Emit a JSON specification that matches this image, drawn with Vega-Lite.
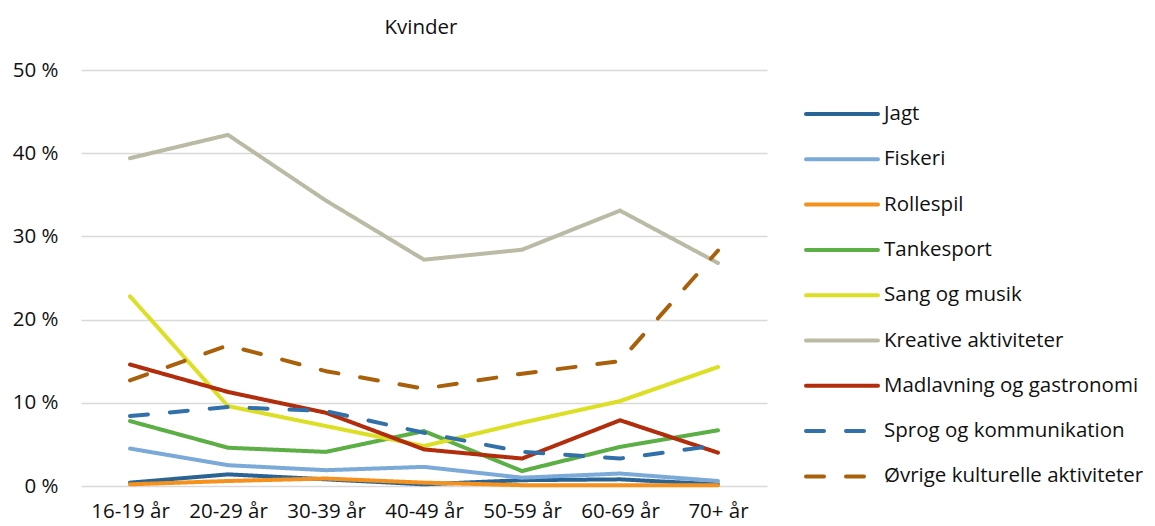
{
  "$schema": "https://vega.github.io/schema/vega-lite/v6.json",
  "width": 686,
  "height": 416,
  "autosize": {"type": "none"},
  "padding": {"left": 81, "top": 70, "right": 388, "bottom": 40},
  "background": "white",
  "title": {"text": "Kvinder", "fontSize": 20.5, "font": "Open Sans", "fontWeight": "normal", "color": "#111111", "anchor": "middle", "dx": -3, "offset": 22},
  "config": {"view": {"stroke": null}, "font": "Open Sans"},
  "data": {"values": [
    {"age": "16-19 år", "series": "Jagt", "pct": 0.4},
    {"age": "20-29 år", "series": "Jagt", "pct": 1.4},
    {"age": "30-39 år", "series": "Jagt", "pct": 0.8},
    {"age": "40-49 år", "series": "Jagt", "pct": 0.2},
    {"age": "50-59 år", "series": "Jagt", "pct": 0.7},
    {"age": "60-69 år", "series": "Jagt", "pct": 0.8},
    {"age": "70+ år", "series": "Jagt", "pct": 0.2},
    {"age": "16-19 år", "series": "Fiskeri", "pct": 4.5},
    {"age": "20-29 år", "series": "Fiskeri", "pct": 2.5},
    {"age": "30-39 år", "series": "Fiskeri", "pct": 1.9},
    {"age": "40-49 år", "series": "Fiskeri", "pct": 2.3},
    {"age": "50-59 år", "series": "Fiskeri", "pct": 1.0},
    {"age": "60-69 år", "series": "Fiskeri", "pct": 1.5},
    {"age": "70+ år", "series": "Fiskeri", "pct": 0.6},
    {"age": "16-19 år", "series": "Rollespil", "pct": 0.2},
    {"age": "20-29 år", "series": "Rollespil", "pct": 0.6},
    {"age": "30-39 år", "series": "Rollespil", "pct": 0.9},
    {"age": "40-49 år", "series": "Rollespil", "pct": 0.4},
    {"age": "50-59 år", "series": "Rollespil", "pct": 0.1},
    {"age": "60-69 år", "series": "Rollespil", "pct": 0.1},
    {"age": "70+ år", "series": "Rollespil", "pct": 0.1},
    {"age": "16-19 år", "series": "Tankesport", "pct": 7.8},
    {"age": "20-29 år", "series": "Tankesport", "pct": 4.6},
    {"age": "30-39 år", "series": "Tankesport", "pct": 4.1},
    {"age": "40-49 år", "series": "Tankesport", "pct": 6.6},
    {"age": "50-59 år", "series": "Tankesport", "pct": 1.8},
    {"age": "60-69 år", "series": "Tankesport", "pct": 4.7},
    {"age": "70+ år", "series": "Tankesport", "pct": 6.7},
    {"age": "16-19 år", "series": "Sang og musik", "pct": 22.8},
    {"age": "20-29 år", "series": "Sang og musik", "pct": 9.6},
    {"age": "30-39 år", "series": "Sang og musik", "pct": 7.2},
    {"age": "40-49 år", "series": "Sang og musik", "pct": 4.8},
    {"age": "50-59 år", "series": "Sang og musik", "pct": 7.6},
    {"age": "60-69 år", "series": "Sang og musik", "pct": 10.2},
    {"age": "70+ år", "series": "Sang og musik", "pct": 14.3},
    {"age": "16-19 år", "series": "Kreative aktiviteter", "pct": 39.4},
    {"age": "20-29 år", "series": "Kreative aktiviteter", "pct": 42.2},
    {"age": "30-39 år", "series": "Kreative aktiviteter", "pct": 34.3},
    {"age": "40-49 år", "series": "Kreative aktiviteter", "pct": 27.2},
    {"age": "50-59 år", "series": "Kreative aktiviteter", "pct": 28.4},
    {"age": "60-69 år", "series": "Kreative aktiviteter", "pct": 33.1},
    {"age": "70+ år", "series": "Kreative aktiviteter", "pct": 26.8},
    {"age": "16-19 år", "series": "Madlavning og gastronomi", "pct": 14.6},
    {"age": "20-29 år", "series": "Madlavning og gastronomi", "pct": 11.3},
    {"age": "30-39 år", "series": "Madlavning og gastronomi", "pct": 8.8},
    {"age": "40-49 år", "series": "Madlavning og gastronomi", "pct": 4.4},
    {"age": "50-59 år", "series": "Madlavning og gastronomi", "pct": 3.3},
    {"age": "60-69 år", "series": "Madlavning og gastronomi", "pct": 7.9},
    {"age": "70+ år", "series": "Madlavning og gastronomi", "pct": 4.0},
    {"age": "16-19 år", "series": "Sprog og kommunikation", "pct": 8.4},
    {"age": "20-29 år", "series": "Sprog og kommunikation", "pct": 9.5},
    {"age": "30-39 år", "series": "Sprog og kommunikation", "pct": 9.0},
    {"age": "40-49 år", "series": "Sprog og kommunikation", "pct": 6.4},
    {"age": "50-59 år", "series": "Sprog og kommunikation", "pct": 4.1},
    {"age": "60-69 år", "series": "Sprog og kommunikation", "pct": 3.3},
    {"age": "70+ år", "series": "Sprog og kommunikation", "pct": 4.9},
    {"age": "16-19 år", "series": "Øvrige kulturelle aktiviteter", "pct": 12.7},
    {"age": "20-29 år", "series": "Øvrige kulturelle aktiviteter", "pct": 16.9},
    {"age": "30-39 år", "series": "Øvrige kulturelle aktiviteter", "pct": 13.8},
    {"age": "40-49 år", "series": "Øvrige kulturelle aktiviteter", "pct": 11.7},
    {"age": "50-59 år", "series": "Øvrige kulturelle aktiviteter", "pct": 13.5},
    {"age": "60-69 år", "series": "Øvrige kulturelle aktiviteter", "pct": 15.0},
    {"age": "70+ år", "series": "Øvrige kulturelle aktiviteter", "pct": 28.3}
  ]},
  "mark": {"type": "line", "strokeWidth": 4, "strokeCap": "round", "strokeJoin": "round"},
  "encoding": {
    "x": {
      "field": "age", "type": "ordinal", "sort": null,
      "scale": {"type": "point", "padding": 0.5},
      "axis": {"title": null, "labelAngle": 0, "domain": false, "ticks": false, "grid": false, "labelFontSize": 20.5, "labelFont": "Open Sans", "labelColor": "#111111", "labelPadding": 15}
    },
    "y": {
      "field": "pct", "type": "quantitative",
      "scale": {"domain": [0, 50], "nice": false},
      "axis": {"title": null, "values": [0, 10, 20, 30, 40, 50], "labelExpr": "datum.value + ' %'", "domain": false, "ticks": false, "gridColor": "#D9D9D9", "gridWidth": 1.5, "labelFontSize": 20.5, "labelFont": "Open Sans", "labelColor": "#111111", "labelPadding": 23}
    },
    "color": {
      "field": "series", "type": "nominal", "sort": null,
      "scale": {
        "domain": ["Jagt", "Fiskeri", "Rollespil", "Tankesport", "Sang og musik", "Kreative aktiviteter", "Madlavning og gastronomi", "Sprog og kommunikation", "Øvrige kulturelle aktiviteter"],
        "range": ["#2A6494", "#7BAAD8", "#F5921E", "#5BAF45", "#DCDF24", "#BBBBA5", "#B22D0B", "#3170A8", "#A8600A"]
      },
      "legend": {
        "orient": "none", "legendX": 747, "legendY": 30, "title": null,
        "symbolType": "M-3,0H3", "symbolSize": 576, "symbolStrokeWidth": 4,
        "labelFontSize": 20.5, "labelFont": "Open Sans", "labelColor": "#111111", "labelLimit": 400,
        "labelOffset": 28, "rowPadding": 20.3,
        "encode": {"symbols": {"update": {"strokeCap": {"value": "round"}}}}
      }
    },
    "strokeDash": {
      "field": "series", "type": "nominal", "sort": null,
      "scale": {
        "domain": ["Jagt", "Fiskeri", "Rollespil", "Tankesport", "Sang og musik", "Kreative aktiviteter", "Madlavning og gastronomi", "Sprog og kommunikation", "Øvrige kulturelle aktiviteter"],
        "range": [[1, 0], [1, 0], [1, 0], [1, 0], [1, 0], [1, 0], [1, 0], [18, 22], [18, 22]]
      },
      "legend": {
        "orient": "none", "legendX": 747, "legendY": 30, "title": null,
        "symbolType": "M-3,0H3", "symbolSize": 576, "symbolStrokeWidth": 4,
        "labelFontSize": 20.5, "labelFont": "Open Sans", "labelColor": "#111111", "labelLimit": 400,
        "labelOffset": 28, "rowPadding": 20.3,
        "encode": {"symbols": {"update": {"strokeCap": {"value": "round"}}}}
      }
    }
  }
}
